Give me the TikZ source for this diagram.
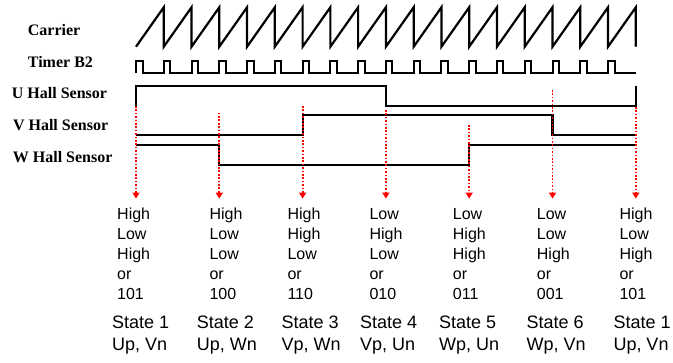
\documentclass[tikz,border=0pt]{standalone}
\usepackage{fontspec}
\setmainfont{Liberation Serif}
\newfontfamily\arialfont{Liberation Sans}
\usetikzlibrary{arrows.meta}

\begin{document}
\begin{tikzpicture}[x=1pt,y=-1pt,
  wave/.style={draw=black,line width=2.2pt},
  sigpulse/.style={draw=black,line width=2pt},
  lbl/.style={anchor=base west,inner sep=0pt,font=\fontsize{16}{19}\selectfont\bfseries},
  colt/.style={anchor=base west,inner sep=0pt,font=\arialfont\fontsize{16}{20}\selectfont},
  statet/.style={anchor=base west,inner sep=0pt,font=\arialfont\fontsize{18}{22}\selectfont},
  redarrow/.style={draw=red,line width=1.8pt,dash pattern=on 1.7pt off 1.7pt,
    -{Triangle[length=6pt,width=7pt,fill=red]}}]

\useasboundingbox (0,0) rectangle (673,363);

% signal names
\node[lbl] (carrier) at (27.7,35.8) {Carrier};
\node[lbl] (timer)   at (27.7,67.8) {Timer B2};
\node[lbl] (uhall)   at (11.7,99)   {U Hall Sensor};
\node[lbl] (vhall)   at (12.8,130.6) {V Hall Sensor};
\node[lbl] (whall)   at (12.7,162.8) {W Hall Sensor};

% carrier sawtooth, 18 periods
\draw[wave] (136,46.7)
  \foreach \k in {1,...,18} { -- ({136+\k*27.767},7.3) -- ({136+\k*27.767},46.7) };

% timer B2 pulses at each carrier reset
\draw[sigpulse] (136,72.8)
  \foreach \k in {0,...,17} {
    -- ({136+\k*27.767},72.8) -- ({136+\k*27.767},61) -- ({142.5+\k*27.767},61) -- ({142.5+\k*27.767},72.8) }
  -- (635.8,72.8);

% hall sensors
\draw[wave] (136,106) -- (136,86) -- (385.9,86) -- (385.9,106) -- (635.8,106) -- (635.8,86);
\draw[wave] (136,135.3) -- (302.6,135.3) -- (302.6,115.3) -- (552.5,115.3) -- (552.5,135.3) -- (635.8,135.3);
\draw[wave] (136,145.3) -- (219.3,145.3) -- (219.3,164.7) -- (469.2,164.7) -- (469.2,145.3) -- (635.8,145.3);

% state columns
\foreach \i/\tx/\cx/\sx/\a/\b/\c/\code/\st/\pr/\ys in {
  1/136/117/112/High/Low/High/101/State 1/{Up, Vn}/106,
  2/219.3/209.3/196.7/High/Low/Low/100/State 2/{Up, Wn}/112.7,
  3/302.6/287.3/281.5/High/High/Low/110/State 3/{Vp, Wn}/106,
  4/385.9/369.3/360/Low/High/Low/010/State 4/{Vp, Un}/110,
  5/469.2/452.7/439/Low/High/High/011/State 5/{Wp, Un}/125,
  6/552.5/536.7/526.5/Low/Low/High/001/State 6/{Wp, Vn}/90,
  7/635.8/619.3/613.3/High/Low/High/101/State 1/{Up, Vn}/107}
{
  \coordinate (s\i) at (\tx,\ys);
  \coordinate (e\i) at (\tx,198.6);
  \node[colt] (u\i) at (\cx,219.5) {\a};
  \node[colt] (v\i) at (\cx,239.5) {\b};
  \node[colt] (w\i) at (\cx,259.5) {\c};
  \node[colt] (o\i) at (\cx,279.5) {or};
  \node[colt] (b\i) at (\cx,299.5) {\code};
  \node[statet] (st\i) at (\sx,328.5) {\st};
  \node[statet] (sw\i) at (\sx,350.5) {\pr};
}

% transition markers
\foreach \i in {1,...,7} { \draw[redarrow] (s\i) -- (e\i); }

\end{tikzpicture}
\end{document}
